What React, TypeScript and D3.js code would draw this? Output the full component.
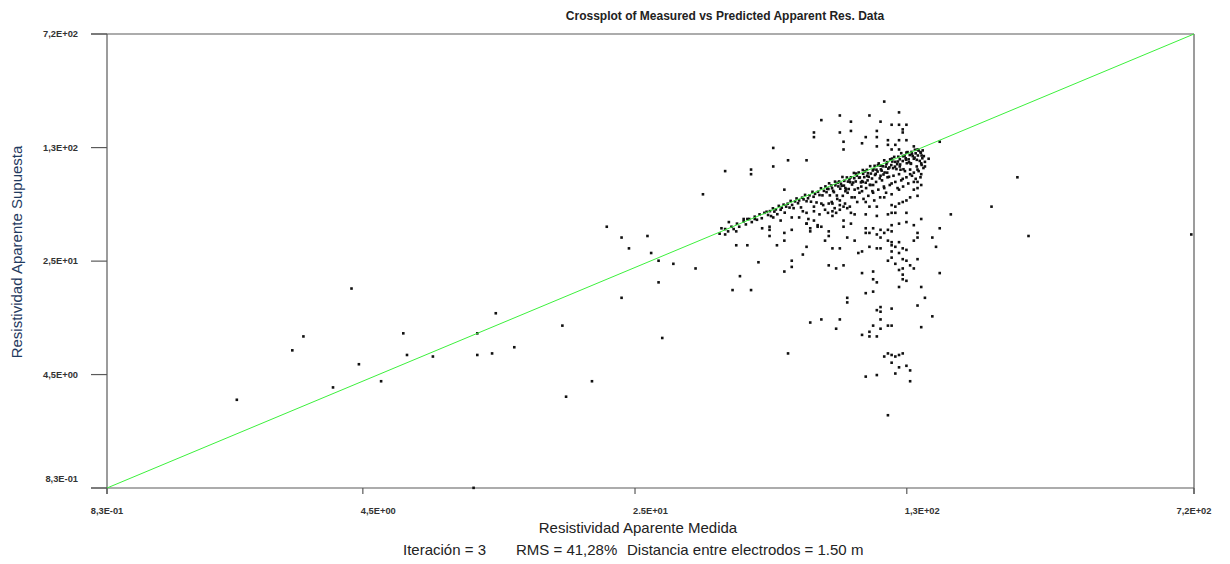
import React from "react";
import * as d3 from "d3";

// Values as log10(resistivity): [measured, predicted]
const sparseLeftLog10: [number, number][] = [
  [0.27, 0.49], [0.42, 0.81], [0.45, 0.9], [0.58, 1.21], [0.53, 0.57], [0.6, 0.72], [0.66, 0.61],
  [0.72, 0.92], [0.73, 0.78], [0.8, 0.77], [0.92, 0.92], [0.92, 0.78], [0.96, 0.79], [0.97, 1.05],
  [1.02, 0.83], [0.91, -0.08], [1.15, 0.97], [1.16, 0.51], [1.23, 0.61], [1.27, 1.61], [1.31, 1.15],
  [1.31, 1.54], [1.33, 1.47], [1.38, 1.55], [1.39, 1.44], [1.41, 1.39], [1.41, 1.25], [1.42, 0.89],
  [1.45, 1.37], [1.51, 1.34], [1.53, 1.82],
];

const upperScatterLog10: [number, number][] = [
  [1.59, 1.97], [1.66, 1.98], [1.66, 1.95], [1.72, 2.12], [1.72, 2.0], [1.76, 2.04], [1.83, 2.22],
  [1.75, 1.85], [2.02, 2.42], [1.9, 2.33], [1.98, 2.33], [2.06, 2.35], [1.85, 2.3], [1.93, 2.29],
  [2.01, 2.29], [2.04, 2.27], [2.06, 2.27], [2.08, 2.27], [1.83, 2.19], [1.9, 2.22], [1.93, 2.23],
  [2.0, 2.23], [2.07, 2.22], [2.07, 2.24], [1.97, 2.19], [2.0, 2.19], [1.91, 2.16], [1.96, 2.15],
  [2.03, 2.17], [2.06, 2.17], [2.08, 2.17], [1.91, 2.11], [2.0, 2.13], [2.03, 2.14], [2.05, 2.14],
  [2.1, 2.13], [2.06, 2.11], [2.08, 2.09], [2.04, 2.11], [1.81, 2.04], [2.17, 2.16],
  [2.11, 1.81], [2.11, 1.86], [2.12, 1.88], [2.11, 1.9], [2.1, 1.85], [2.04, 1.75], [2.05, 1.74],
  [2.06, 1.76], [2.07, 1.77], [2.08, 1.78], [2.09, 1.8],
];

const rightScatterLog10: [number, number][] = [
  [2.85, 1.56], [2.41, 1.55], [2.38, 1.93], [2.31, 1.74], [2.2, 1.69], [2.17, 1.6], [2.15, 1.54],
  [2.16, 1.48], [2.15, 1.03], [2.17, 1.31], [2.13, 1.15], [2.12, 1.22], [2.11, 1.4], [2.11, 1.1],
  [2.12, 0.96],
];

const lowerScatterLog10: [number, number][] = [
  [1.6, 1.64], [1.58, 1.6], [1.59, 1.56], [1.62, 1.58], [1.64, 1.66], [1.65, 1.66], [1.67, 1.66],
  [1.69, 1.6], [1.72, 1.67], [1.71, 1.61], [1.71, 1.59], [1.71, 1.55], [1.73, 1.49], [1.75, 1.57],
  [1.77, 1.59], [1.74, 1.65], [1.77, 1.67], [1.79, 1.67], [1.81, 1.63], [1.82, 1.6], [1.82, 1.58],
  [1.81, 1.48], [1.84, 1.62], [1.62, 1.49], [1.65, 1.49], [1.75, 1.52], [1.63, 1.29], [1.61, 1.2],
  [1.66, 1.2], [1.68, 1.38], [1.75, 1.32], [1.77, 1.39], [1.77, 1.35], [1.8, 1.43], [1.82, 0.99],
  [1.85, 1.01], [1.9, 1.01], [1.89, 0.95], [1.76, 0.79], [1.87, 1.36], [1.89, 1.34], [1.91, 1.36],
  [1.88, 1.47], [1.9, 1.47], [1.87, 1.58], [1.87, 1.55], [1.86, 1.52], [1.92, 1.54], [1.94, 1.52],
  [1.95, 1.44], [1.96, 1.45], [1.98, 1.48], [2.0, 1.47], [2.01, 1.47], [1.97, 1.57], [2.0, 1.56],
  [2.01, 1.54], [2.03, 1.52], [2.04, 1.58], [2.02, 1.57], [1.96, 1.31], [1.99, 1.32], [1.99, 1.27],
  [2.0, 1.25], [1.97, 1.18], [1.99, 1.19], [1.92, 1.15], [1.92, 1.12], [2.01, 1.09], [2.04, 1.08],
  [2.0, 1.07], [2.01, 1.06], [2.01, 1.01], [2.03, 0.97], [2.04, 0.97], [1.99, 0.97], [2.01, 0.95],
  [1.98, 0.93], [1.96, 0.91], [1.98, 0.9], [2.0, 0.9], [2.02, 0.77], [2.03, 0.79], [2.04, 0.78],
  [2.05, 0.77], [2.06, 0.78], [2.07, 0.79], [2.04, 0.73], [2.06, 0.7], [2.08, 0.71], [2.09, 0.68],
  [1.97, 0.64], [2.0, 0.65], [2.05, 0.66], [2.09, 0.61], [2.03, 0.39], [2.04, 1.51], [2.05, 1.48],
  [2.04, 1.45], [2.04, 1.41], [2.06, 1.44], [2.08, 1.46], [2.05, 1.37], [2.07, 1.34], [2.08, 1.39],
  [2.09, 1.36], [2.1, 1.34], [2.07, 1.3], [2.07, 1.27], [2.08, 1.26], [2.06, 1.22], [2.11, 1.57],
  [2.11, 1.54], [2.1, 1.52], [1.81, 1.7], [1.83, 1.71], [1.81, 1.63], [1.83, 1.65], [1.85, 1.76],
  [1.87, 1.76], [1.88, 1.76], [1.9, 1.75], [1.91, 1.74], [1.84, 1.61], [1.85, 1.61], [1.88, 1.71],
  [1.89, 1.7], [1.91, 1.65], [1.91, 1.61], [1.93, 1.7], [1.94, 1.69], [1.93, 1.63], [1.97, 1.6],
  [1.98, 1.57], [1.99, 1.6], [2.01, 1.59], [1.98, 1.74], [2.0, 1.74], [1.97, 1.69], [2.0, 1.68],
  [2.03, 1.59], [2.04, 1.62], [2.04, 1.49], [2.03, 1.69], [2.04, 1.7], [2.05, 1.7], [2.06, 1.63],
  [2.08, 1.64], [2.1, 1.62], [2.06, 1.51], [2.07, 1.47], [2.07, 1.4], [2.03, 1.39], [2.06, 1.33],
  [1.86, 1.72], [1.9, 1.78], [1.94, 1.8], [1.96, 1.84], [1.99, 1.83], [2.02, 1.86], [2.04, 1.89],
  [2.07, 1.92], [2.09, 1.95], [2.11, 1.98], [2.12, 2.02], [2.1, 1.9], [2.06, 1.85], [2.02, 1.8],
  [1.97, 1.77], [1.92, 1.73], [1.88, 1.68], [1.99, 1.88], [2.08, 1.7], [2.12, 1.66], [2.12, 1.95],
  [2.13, 2.0], [2.14, 2.05],
];

const bandLowLog10: [number, number][] = [
  [1.575, 1.565], [1.59, 1.595], [1.598, 1.58], [1.607, 1.61], [1.613, 1.595], [1.622, 1.63],
  [1.628, 1.61], [1.64, 1.645], [1.646, 1.625], [1.655, 1.66], [1.662, 1.64], [1.67, 1.675],
  [1.676, 1.655], [1.683, 1.69], [1.689, 1.665], [1.696, 1.7],
];

const bandMidLog10: [number, number][] = [
  [1.702, 1.707], [1.706, 1.686], [1.711, 1.711], [1.714, 1.679], [1.719, 1.729], [1.723, 1.708],
  [1.727, 1.722], [1.731, 1.691], [1.735, 1.745], [1.74, 1.72], [1.743, 1.733], [1.748, 1.753],
  [1.751, 1.701], [1.755, 1.74], [1.759, 1.759], [1.764, 1.734], [1.767, 1.777], [1.771, 1.751],
  [1.775, 1.73], [1.779, 1.774], [1.783, 1.793], [1.787, 1.762], [1.79, 1.78], [1.795, 1.735],
  [1.798, 1.798], [1.802, 1.787], [1.806, 1.816], [1.81, 1.775], [1.814, 1.794], [1.818, 1.813],
  [1.822, 1.772], [1.826, 1.836], [1.829, 1.804], [1.833, 1.823], [1.837, 1.767], [1.841, 1.836],
  [1.845, 1.815], [1.849, 1.859], [1.853, 1.813], [1.857, 1.842],
];

const bandHighLog10: [number, number][] = [
  [1.861, 1.871], [1.864, 1.834], [1.866, 1.856], [1.871, 1.891], [1.873, 1.813], [1.877, 1.877],
  [1.879, 1.859], [1.882, 1.842], [1.887, 1.902], [1.888, 1.878], [1.892, 1.812], [1.896, 1.871],
  [1.898, 1.903], [1.901, 1.856], [1.903, 1.888], [1.907, 1.932], [1.911, 1.876], [1.912, 1.907],
  [1.915, 1.86], [1.919, 1.929], [1.922, 1.902], [1.924, 1.854], [1.928, 1.898], [1.93, 1.93],
  [1.933, 1.883], [1.938, 1.958], [1.939, 1.924], [1.943, 1.903], [1.946, 1.941], [1.949, 1.859],
  [1.951, 1.961], [1.954, 1.929], [1.957, 1.897], [1.962, 1.977], [1.963, 1.953], [1.966, 1.931],
  [1.97, 1.895], [1.973, 1.978], [1.976, 1.956], [1.978, 1.933], [1.982, 2.002], [1.984, 1.954],
  [1.987, 1.922], [1.991, 1.981], [1.994, 2.004], [1.995, 1.945], [1.999, 1.979], [2.002, 1.967],
  [2.005, 2.02], [2.008, 1.923], [2.01, 2.005], [2.013, 1.973], [2.016, 2.001], [2.02, 2.04],
  [2.021, 1.961], [2.024, 1.999], [2.028, 2.028], [2.031, 1.986], [2.033, 1.933], [2.036, 2.046],
  [2.039, 2.009], [2.042, 2.032], [2.044, 1.989], [2.047, 2.062], [2.05, 2.03], [2.053, 1.983],
  [2.055, 2.015], [2.058, 2.063], [2.062, 2.047], [2.063, 2.013], [2.066, 2.086], [2.07, 2.035],
  [2.072, 1.982], [2.075, 2.07], [2.078, 2.053], [2.081, 2.021], [2.083, 2.093], [2.086, 2.046],
  [2.089, 2.074], [2.092, 2.017], [2.094, 2.094], [2.097, 2.067], [2.1, 2.05], [2.103, 2.108],
  [2.105, 2.085], [2.108, 2.043], [2.111, 2.071], [2.113, 2.103], [2.116, 2.036], [2.119, 2.089],
  [2.121, 2.071], [2.124, 2.104], [2.127, 2.067],
  [1.869, 1.854], [1.884, 1.834], [1.894, 1.894], [1.905, 1.875], [1.917, 1.852], [1.926, 1.916],
  [1.936, 1.896], [1.944, 1.954], [1.952, 1.927], [1.96, 1.905], [1.968, 1.968], [1.974, 1.939],
  [1.981, 1.881], [1.989, 1.974], [1.997, 1.952], [2.003, 2.008], [2.011, 1.981], [2.018, 1.948],
  [2.026, 2.016], [2.034, 1.994], [2.041, 2.051], [2.049, 1.999], [2.057, 2.032], [2.064, 1.979],
  [2.071, 2.066], [2.079, 2.044], [2.087, 2.027], [2.095, 2.08], [2.102, 2.057], [2.11, 2.11],
  [2.118, 2.093], [2.123, 2.053],
];

const bandUnderLog10: [number, number][] = [
  [1.8, 1.71], [1.815, 1.66], [1.83, 1.74], [1.845, 1.69], [1.855, 1.75], [1.868, 1.7],
  [1.878, 1.77], [1.886, 1.73], [1.893, 1.79], [1.9, 1.72], [1.908, 1.81], [1.914, 1.76],
  [1.921, 1.83], [1.927, 1.74], [1.932, 1.8], [1.94, 1.85], [1.947, 1.77], [1.953, 1.83],
  [1.958, 1.87], [1.964, 1.79], [1.971, 1.86], [1.977, 1.81], [1.983, 1.88], [1.988, 1.84],
  [1.993, 1.78], [1.998, 1.9], [2.004, 1.85], [2.009, 1.8], [2.014, 1.91], [2.019, 1.87],
  [2.025, 1.83], [2.029, 1.93], [2.035, 1.88], [2.04, 1.82], [2.045, 1.94], [2.05, 1.9],
  [2.056, 1.86], [2.06, 1.95], [2.066, 1.91], [2.071, 1.87], [2.076, 1.97], [2.08, 1.93],
  [2.085, 1.89], [2.09, 1.98], [2.095, 1.94], [2.1, 1.96], [2.105, 1.92], [2.108, 2.0],
  [2.113, 1.97], [2.118, 1.93], [2.121, 2.01], [2.126, 1.99], [2.13, 2.03], [2.028, 1.96],
  [2.062, 2.0], [1.962, 1.9], [1.915, 1.84], [2.092, 2.02], [2.01, 1.94], [1.975, 1.91],
];

const axisMin = 0.83;
const axisMax = 720;
const xTickValues = [0.83, 4.08, 22.2, 120.5, 720];
const xTickLabels = ["8,3E-01", "4,5E+00", "2.5E+01", "1,3E+02", "7,2E+02"];
const yTickValues = [0.83, 4.5, 24.4, 132.5, 720];
const yTickLabels = ["8,3E-01", "4,5E+00", "2,5E+01", "1,3E+02", "7,2E+02"];

const titleText = "Crossplot of Measured vs Predicted Apparent Res. Data";
const xAxisTitle = "Resistividad Aparente Medida";
const yAxisTitle = "Resistividad Aparente Supuesta";
const footerParts = ["Iteración = 3", "RMS = 41,28%", "Distancia entre electrodos = 1.50 m"];

export default function App() {
  const W = 1230;
  const H = 564;
  const left = 107, right = 1194, top = 34, bottom = 488;
  const x = d3.scaleLog().domain([axisMin, axisMax]).range([left, right]);
  const y = d3.scaleLog().domain([axisMin, axisMax]).range([bottom, top]);

  const all = [
    ...sparseLeftLog10,
    ...upperScatterLog10,
    ...rightScatterLog10,
    ...lowerScatterLog10,
    ...bandLowLog10,
    ...bandMidLog10,
    ...bandHighLog10,
    ...bandUnderLog10,
  ].map(([m, p]) => [Math.pow(10, m), Math.pow(10, p)] as [number, number]);

  const tickFont = "'Liberation Sans', Arial, sans-serif";
  const axisColor = "#5a5a5a";
  const tickLabelColor = "#333";
  const tickFontSize = 9.3;

  const clampX = (v: number) => Math.min(right, Math.max(left, x(v)));
  const clampY = (v: number) => Math.min(bottom, Math.max(top, y(v)));

  const lineGen = d3.line<[number, number]>().x((d) => x(d[0])).y((d) => y(d[1]));

  return (
    <svg
      width={W}
      height={H}
      style={{ position: "absolute", left: 0, top: 0, background: "#fff" }}
      fontFamily={tickFont}
    >
      <rect x={0} y={0} width={W} height={H} fill="#fff" />
      <text x={725} y={20} textAnchor="middle" fontSize={12} fontWeight="bold" fill="#222">
        {titleText}
      </text>

      {/* frame */}
      <line x1={91} x2={right} y1={top} y2={top} stroke={axisColor} strokeWidth={1.2} />
      <line x1={91} x2={right} y1={bottom} y2={bottom} stroke={axisColor} strokeWidth={1.2} />
      <line x1={left} x2={left} y1={top} y2={bottom + 6} stroke={axisColor} strokeWidth={1.2} />
      <line x1={right} x2={right} y1={top} y2={bottom + 6} stroke={axisColor} strokeWidth={1.2} />

      {/* y ticks */}
      {yTickValues.map((v, i) => (
        <g key={"yt" + i}>
          <line x1={91} x2={left} y1={y(v)} y2={y(v)} stroke={axisColor} strokeWidth={1.2} />
          <text
            x={78}
            y={y(v) + (i === 0 ? -9 : 0)}
            dy="0.35em"
            textAnchor="end"
            fontSize={tickFontSize}
            fontWeight="bold"
            fill={tickLabelColor}
          >
            {yTickLabels[i]}
          </text>
        </g>
      ))}

      {/* x ticks */}
      {xTickValues.map((v, i) => {
        const px = x(v);
        const isEnd = i === 0 || i === xTickValues.length - 1;
        return (
          <g key={"xt" + i}>
            <line x1={px} x2={px} y1={bottom} y2={bottom + 6} stroke={axisColor} strokeWidth={1.2} />
            <text
              x={isEnd ? px : px - 2}
              y={514}
              textAnchor={isEnd ? "middle" : "start"}
              fontSize={tickFontSize}
              fontWeight="bold"
              fill={tickLabelColor}
            >
              {xTickLabels[i]}
            </text>
          </g>
        );
      })}

      {/* points */}
      {all.map((d, i) => (
        <rect
          key={"p" + i}
          x={clampX(d[0]) - 1.3}
          y={clampY(d[1]) - 1.3}
          width={2.6}
          height={2.6}
          fill="#111"
        />
      ))}

      {/* 1:1 line, drawn over the points */}
      <path
        d={lineGen([[axisMin, axisMin], [axisMax, axisMax]]) || ""}
        stroke="#3cf03c"
        strokeWidth={1}
        fill="none"
      />

      <text x={638} y={533} textAnchor="middle" fontSize={15} fill="#222">
        {xAxisTitle}
      </text>
      <text
        transform={`translate(22,252) rotate(-90)`}
        textAnchor="middle"
        fontSize={15}
        fill="#1f3a60"
      >
        {yAxisTitle}
      </text>
      <text x={403} y={555} fontSize={15} fill="#222">
        {footerParts[0]}
      </text>
      <text x={516} y={555} fontSize={15} fill="#222">
        {footerParts[1]}
      </text>
      <text x={627} y={555} fontSize={15} fill="#222">
        {footerParts[2]}
      </text>
    </svg>
  );
}
